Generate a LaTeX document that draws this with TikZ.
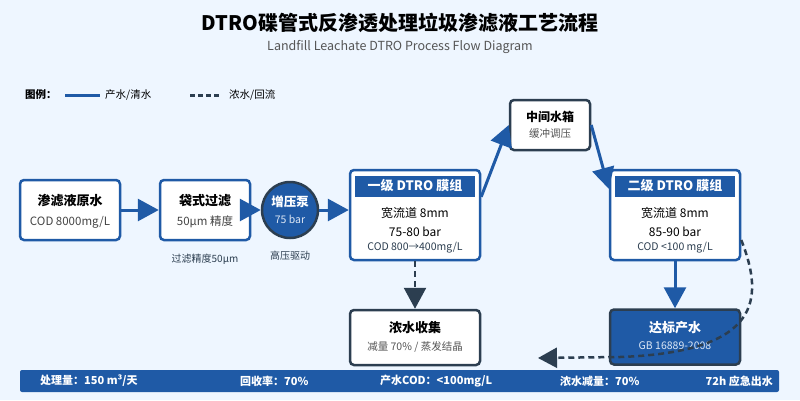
\documentclass[tikz,border=0pt]{standalone}
\usepackage{fontspec}
\setmainfont{Noto Sans CJK SC}
\usetikzlibrary{arrows.meta,calc}
\definecolor{bg}{HTML}{EEF6FF}
\definecolor{mblue}{HTML}{1F5AA6}
\definecolor{dark}{HTML}{2C3E50}
\definecolor{gtext}{HTML}{444444}
\definecolor{stext}{HTML}{555555}
\definecolor{ltext}{HTML}{DDE7F5}
\newcommand\myfs[1]{\fontsize{#1}{#1}\selectfont}
\begin{document}
\begin{tikzpicture}[x=1pt,y=-1pt,
  bluebox/.style={draw=mblue,line width=2.5pt,fill=white,rounded corners=4pt,inner sep=0pt},
  darkbox/.style={draw=dark,line width=2.5pt,fill=white,rounded corners=4pt,inner sep=0pt},
  hdr/.style={fill=mblue,text=white,inner sep=0pt,minimum width=120pt,minimum height=21pt},
  txt/.style={inner sep=0pt,anchor=center},
  bartxt/.style={inner sep=0pt,text=white,font=\myfs{11}\bfseries},
  bluearrow/.style={draw=mblue,line width=3pt,-{Triangle[length=21pt,width=22pt]}},
  darkdash/.style={draw=dark,line width=2.5pt,dash pattern=on 6pt off 4pt,-{Triangle[length=21pt,width=22pt]}},
  retdash/.style={draw=dark,line width=2.5pt,dash pattern=on 6pt off 4pt,-{Triangle[length=19pt,width=20pt]}}
]
\fill[bg] (0,0) rectangle (800,400);
\useasboundingbox (0,0) rectangle (800,400);

% title
\node[txt] (title) at (400,23) {\myfs{20}\bfseries DTRO碟管式反渗透处理垃圾渗滤液工艺流程};
\node[txt,text=stext] (subtitle) at (400,47) {\myfs{12.5}Landfill Leachate DTRO Process Flow Diagram};

% legend
\node[txt,anchor=west] (leg) at (25,95) {\myfs{10.5}\bfseries 图例：};
\coordinate (l1a) at (65,95);
\coordinate (l1b) at (100,95);
\draw[mblue,line width=3pt] (l1a) -- (l1b);
\node[txt,anchor=west] (leg1) at (105,95) {\myfs{10.5}产水/清水};
\coordinate (l2a) at (190,95);
\coordinate (l2b) at (220,95);
\draw[dark,line width=3pt,dash pattern=on 5pt off 3pt] (l2a) -- (l2b);
\node[txt,anchor=west] (leg2) at (229,95) {\myfs{10.5}浓水/回流};

% boxes
\node[bluebox,minimum width=100pt,minimum height=60pt] (raw) at (70,210) {};
\node[txt] (rawt) at (70,201) {\myfs{13}\bfseries 渗滤液原水};
\node[txt,text=gtext] (raws) at (70,222) {\myfs{11.5}COD 8000mg/L};

\node[bluebox,minimum width=90pt,minimum height=60pt] (filter) at (205,210) {};
\node[txt] (filtert) at (205,201) {\myfs{13}\bfseries 袋式过滤};
\node[txt,text=gtext] (filters) at (205,222) {\myfs{11.5}50μm 精度};
\node[txt,text=dark] (filterl) at (205,259) {\myfs{10}过滤精度50μm};

\node[circle,draw=dark,fill=mblue,line width=2.5pt,minimum size=56pt,inner sep=0pt] (pump) at (290,210) {};
\node[txt,text=white] (pumpt) at (290,202) {\myfs{12.5}\bfseries 增压泵};
\node[txt,text=ltext] (pumps) at (290,219) {\myfs{10.5}75 bar};
\node[txt,text=dark] (pumpl) at (290,256) {\myfs{10}高压驱动};

\node[bluebox,minimum width=130pt,minimum height=90pt] (s1) at (415,215) {};
\node[hdr] (s1h) at (415,186) {\myfs{13}\bfseries 一级 DTRO 膜组};
\node[txt] (s1a) at (415,213) {\myfs{12}宽流道 8mm};
\node[txt] (s1b) at (415,232) {\myfs{12}75-80 bar};
\node[txt,text=dark] (s1c) at (415,248) {\myfs{10.5}COD 800→400mg/L};

\node[darkbox,minimum width=80pt,minimum height=50pt] (tank) at (550,125) {};
\node[txt] (tankt) at (550,117) {\myfs{12}\bfseries 中间水箱};
\node[txt,text=stext] (tanks) at (550,134) {\myfs{10.5}缓冲调压};

\node[bluebox,minimum width=130pt,minimum height=90pt] (s2) at (675,215) {};
\node[hdr] (s2h) at (675,186) {\myfs{13}\bfseries 二级 DTRO 膜组};
\node[txt] (s2a) at (675,213) {\myfs{12}宽流道 8mm};
\node[txt] (s2b) at (675,232) {\myfs{12}85-90 bar};
\node[txt,text=dark] (s2c) at (675,248) {\myfs{10.5}COD <100 mg/L};

\node[darkbox,minimum width=130pt,minimum height=55pt] (conc) at (415,337.5) {};
\node[txt] (conct) at (415,328) {\myfs{13}\bfseries 浓水收集};
\node[txt,text=stext] (concs) at (415,347) {\myfs{10.5}减量 70\% / 蒸发结晶};

\node[darkbox,fill=mblue,minimum width=130pt,minimum height=55pt] (prod) at (675,337) {};
\node[txt,text=white] (prodt) at (675,328) {\myfs{13}\bfseries 达标产水};
\node[txt,text=ltext] (prods) at (675,346) {\myfs{10.5}GB 16889-2008};

% bottom bar
\node[fill=mblue,rounded corners=2pt,minimum width=759pt,minimum height=22pt,inner sep=0pt] (bar) at (399.5,381) {};
\node[bartxt,anchor=west] (b1) at (40,381) {处理量：150 m³/天};
\node[bartxt,anchor=west] (b2) at (240,381) {回收率：70\%};
\node[bartxt,anchor=west] (b3) at (380,381) {产水COD：<100mg/L};
\node[bartxt,anchor=west] (b4) at (560,381) {浓水减量：70\%};
\node[bartxt,anchor=east] (b5) at (773,381) {72h 应急出水};

% connectors
\draw[bluearrow] (raw.east) -- (filter.west);
\draw[bluearrow] (filter.east) -- (pump.west);
\draw[bluearrow] (pump.east) -- (pump.east -| s1.west);
\draw[bluearrow] ($(s1.north east)+(0,28)$) -- (tank.west);
\draw[bluearrow] (tank.east) -- ($(s2.north west)+(0,20)$);
\draw[darkdash] (s1.south) -- (conc.north);
\draw[bluearrow] (s2.south) -- (prod.north);
\coordinate (ret) at (538,358);
\draw[retdash] ($(s2.east)+(0,25)$) .. controls (765,300) and (760,352) .. (620,357) -- (ret);
\end{tikzpicture}
\end{document}
